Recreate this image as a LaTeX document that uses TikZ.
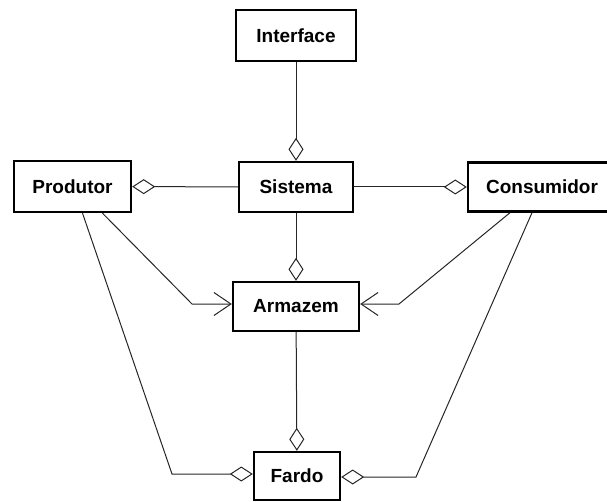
\documentclass[tikz,border=0pt]{standalone}
\usepackage{fontspec}
\setmainfont{Liberation Sans}
\usetikzlibrary{arrows.meta}
\begin{document}
\begin{tikzpicture}[x=1pt,y=-1pt]
	\tikzset{>={Straight Barb[length=17pt,width=23pt]}}
	\tikzset{classe/.style={draw,line width=2.4pt,inner sep=0pt,font=\fontsize{19}{22}\selectfont\bfseries}}
	\tikzset{agg/.style={-{Diamond[open,length=23pt,width=15pt]}}}
	\tikzset{liga/.style={line width=1pt,color=black!85}}
	\useasboundingbox (0,0) rectangle (607,502);
	
	\node[classe,minimum width=120pt,minimum height=51pt] (interface) at (296,35.5) {Interface};
	\node[classe,minimum width=117pt,minimum height=51pt] (produtor) at (72.5,186.5) {Produtor};
	\node[classe,minimum width=114pt,minimum height=50pt] (sistema) at (296,187) {Sistema};
	\node[classe,minimum width=148pt,minimum height=49pt] (consumidor) at (542,187) {Consumidor};
	\node[classe,minimum width=126pt,minimum height=49pt] (armazem) at (296,306.5) {Armazem};
	\node[classe,minimum width=86pt,minimum height=48pt] (fardo) at (297,476) {Fardo};
	
	\coordinate (PA) at (192,304);
	\coordinate (CA) at (399,304);
	\coordinate (PF) at (172,474);
	\coordinate (CF) at (416,477);
	
	\draw[liga,agg] (interface) -- (sistema);
	\draw[liga,agg] (sistema) -- (produtor);
	\draw[liga,agg] (sistema) -- (consumidor);
	\draw[liga,agg] (sistema) -- (armazem);
	\draw[liga,agg] (armazem) -- (fardo);
	
	\draw[liga,->] ([xshift=30pt]produtor.south) -- (PA) -- (PA -| armazem.west);
	\draw[liga,->] ([xshift=-32pt]consumidor.south) -- (CA) -- (CA -| armazem.east);
	\draw[liga,agg] ([xshift=10pt]produtor.south) -- (PF) -- (PF -| fardo.west);
	\draw[liga,agg] ([xshift=-10pt]consumidor.south) -- (CF) -- (CF -| fardo.east);
	
\end{tikzpicture}
\end{document}
